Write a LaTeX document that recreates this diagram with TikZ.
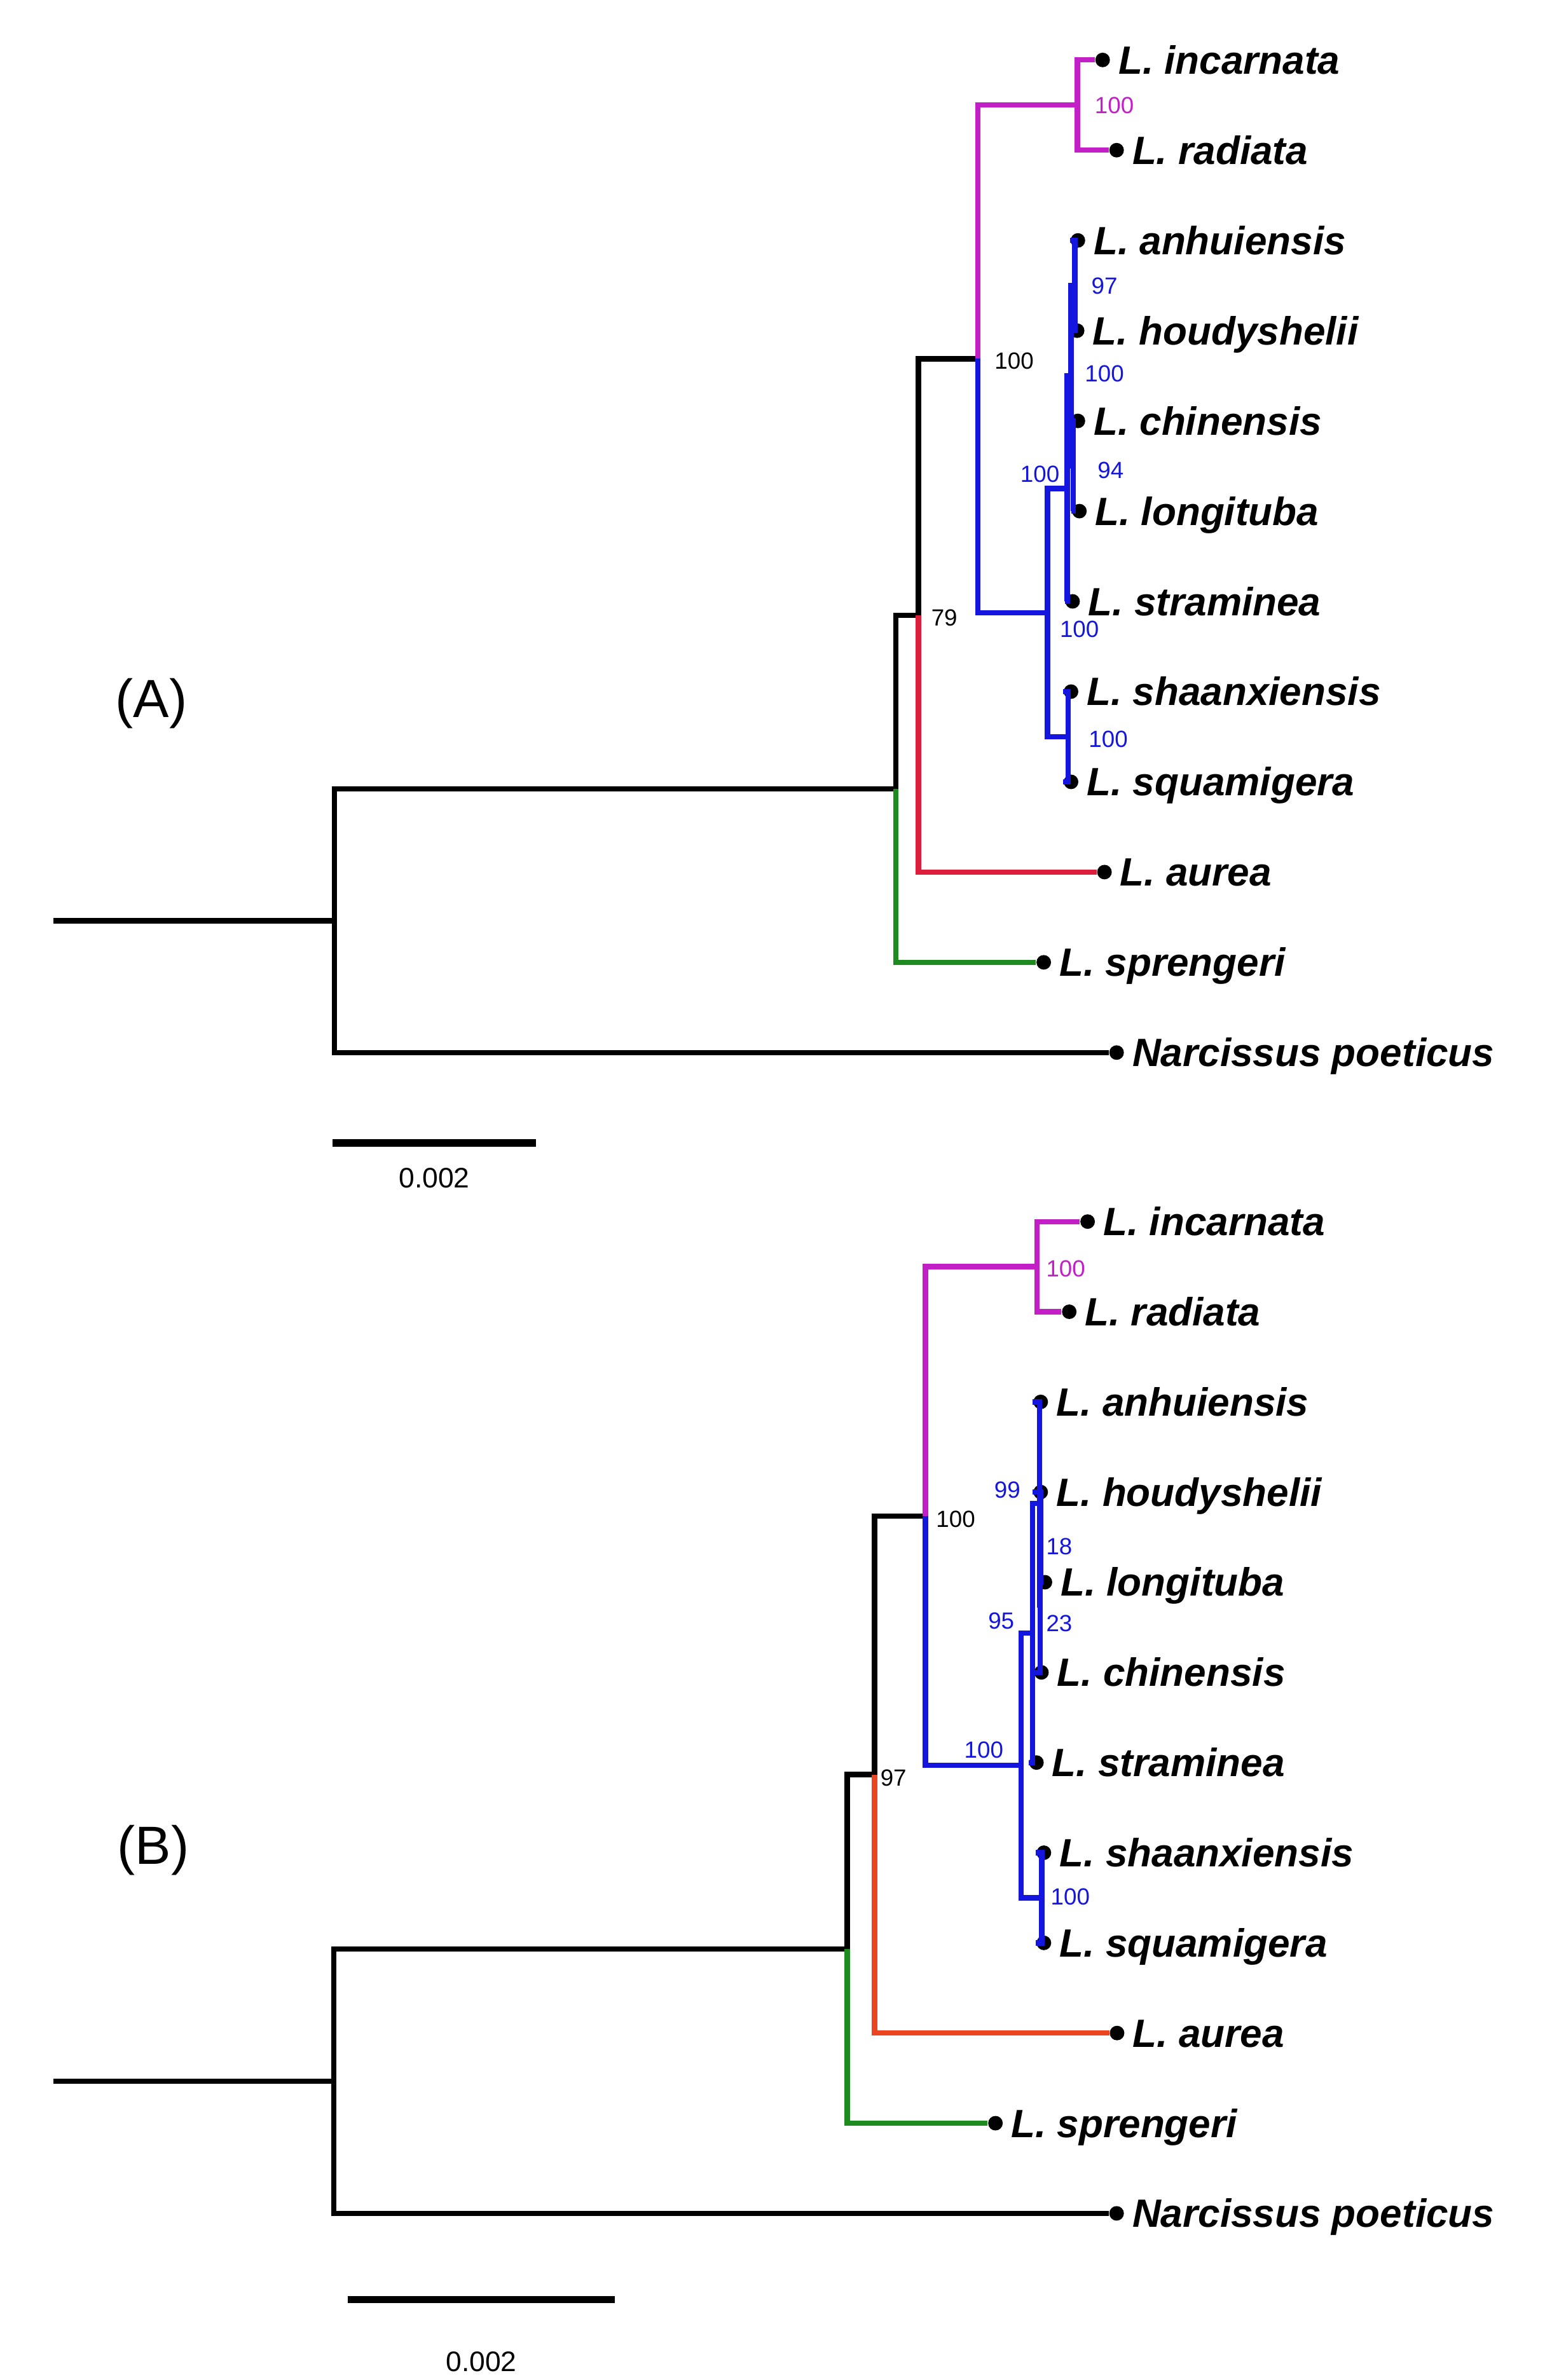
\documentclass[tikz,border=0pt]{standalone}
\usepackage{fontspec}
\setmainfont{Liberation Sans}
\usepackage{tikz}
\usetikzlibrary{positioning}
\definecolor{cladeMag}{HTML}{C21FC6}
\definecolor{cladeBlue}{HTML}{1515E0}
\definecolor{redA}{HTML}{DC1E3C}
\definecolor{redB}{HTML}{EB4420}
\definecolor{cladeGreen}{HTML}{1F8A1F}

\begin{document}
\begin{tikzpicture}[
    x=0.5pt, y=-0.5pt,
    branch/.style = {line width=1.75pt},
    tip/.style = {circle, fill=black, inner sep=0pt, minimum size=4.8pt},
    taxon/.style = {anchor=base west, inner sep=0pt, xshift=5pt, yshift=-4.6pt, font=\fontsize{13}{15}\selectfont\bfseries\itshape},
    boot/.style = {inner sep=0pt, font=\fontsize{7.7}{9}\selectfont},
    panel/.style = {font=\fontsize{17.7}{21}\selectfont},
    scalebar/.style = {line width=2.5pt},
    scaletext/.style = {inner sep=0pt, font=\fontsize{9.3}{11}\selectfont},
]

    % frame
    \fill[white] (0,0) rectangle (1022,1568);

    %%%%%%%%%%%%%%%% tree (A) %%%%%%%%%%%%%%%%
    \node[panel] (labA) at (99.6,463.3) {(A)};

    % tips
    \node[tip] (a-inc) at (726.3,39.5) {};
    \node[tip] (a-rad) at (735.5,98.95) {};
    \node[tip] (a-anh) at (710,158.4) {};
    \node[tip] (a-hou) at (709.5,217.85) {};
    \node[tip] (a-chi) at (710,277.3) {};
    \node[tip] (a-lon) at (711,336.75) {};
    \node[tip] (a-str) at (706.5,396.2) {};
    \node[tip] (a-sha) at (705.5,455.65) {};
    \node[tip] (a-squ) at (705.5,515.1) {};
    \node[tip] (a-aur) at (727.5,574.55) {};
    \node[tip] (a-spr) at (687.5,634) {};
    \node[tip] (a-nar) at (735.5,693.45) {};

    % internal nodes
    \coordinate (a-stem) at (35,606.6);
    \coordinate (a-root) at (220.4,606.6);
    \coordinate (a-n1) at (590,519.7);
    \coordinate (a-n2) at (605,405.5);
    \coordinate (a-n3) at (644,236.4);
    \coordinate (a-mag) at (709.7,69.2);
    \coordinate (a-b1) at (690,403.6);
    \coordinate (a-b2) at (703,321.9);
    \coordinate (a-b3) at (705.5,247.6);
    \coordinate (a-b97) at (708,188.1);
    \coordinate (a-b94) at (707,307);
    \coordinate (a-bss) at (703.5,485.4);

    % branches
    \draw[branch] (a-stem) -- (a-root);
    \draw[branch] (a-root) |- (a-n1);
    \draw[branch] (a-root) |- (a-nar);
    \draw[branch] (a-n1) |- (a-n2);
    \draw[branch, cladeGreen] (a-n1) |- (a-spr);
    \draw[branch] (a-n2) |- (a-n3);
    \draw[branch, redA] (a-n2) |- (a-aur);
    \draw[branch, cladeMag] (a-n3) |- (a-mag);
    \draw[branch, cladeMag] (a-mag) |- (a-inc);
    \draw[branch, cladeMag] (a-mag) |- (a-rad);
    \draw[branch, cladeBlue] (a-n3) |- (a-b1);
    \draw[branch, cladeBlue] (a-b1) |- (a-b2);
    \draw[branch, cladeBlue] (a-b1) |- (a-bss);
    \draw[branch, cladeBlue] (a-bss) |- (a-sha);
    \draw[branch, cladeBlue] (a-bss) |- (a-squ);
    \draw[branch, cladeBlue] (a-b2) |- (a-b3);
    \draw[branch, cladeBlue] (a-b2) |- (a-str);
    \draw[branch, cladeBlue] (a-b3) |- (a-b97);
    \draw[branch, cladeBlue] (a-b3) |- (a-b94);
    \draw[branch, cladeBlue] (a-b97) |- (a-anh);
    \draw[branch, cladeBlue] (a-b97) |- (a-hou);
    \draw[branch, cladeBlue] (a-b94) |- (a-chi);
    \draw[branch, cladeBlue] (a-b94) |- (a-lon);

    % taxa
    \node[taxon] (a-inc-t) at (a-inc) {L. incarnata};
    \node[taxon] (a-rad-t) at (a-rad) {L. radiata};
    \node[taxon] (a-anh-t) at (a-anh) {L. anhuiensis};
    \node[taxon] (a-hou-t) at (a-hou) {L. houdyshelii};
    \node[taxon] (a-chi-t) at (a-chi) {L. chinensis};
    \node[taxon] (a-lon-t) at (a-lon) {L. longituba};
    \node[taxon] (a-str-t) at (a-str) {L. straminea};
    \node[taxon] (a-sha-t) at (a-sha) {L. shaanxiensis};
    \node[taxon] (a-squ-t) at (a-squ) {L. squamigera};
    \node[taxon] (a-aur-t) at (a-aur) {L. aurea};
    \node[taxon] (a-spr-t) at (a-spr) {L. sprengeri};
    \node[taxon] (a-nar-t) at (a-nar) {Narcissus poeticus};

    % support values
    \node[boot, cladeMag] (a-mag-bs) at (734,69.5) {100};
    \node[boot, cladeBlue] (a-b97-bs) at (727.5,188.6) {97};
    \node[boot, cladeBlue] (a-b3-bs) at (727.5,246) {100};
    \node[boot, cladeBlue] (a-b94-bs) at (731.6,310) {94};
    \node[boot, cladeBlue] (a-b2-bs) at (685,312.5) {100};
    \node[boot, cladeBlue] (a-b1-bs) at (711,414.5) {100};
    \node[boot, cladeBlue] (a-bss-bs) at (730,487) {100};
    \node[boot] (a-n3-bs) at (668,237.9) {100};
    \node[boot] (a-n2-bs) at (622,406.9) {79};

    % scale
    \coordinate (a-sb-l) at (219,753);
    \coordinate (a-sb-r) at (353,753);
    \draw[scalebar] (a-sb-l) -- (a-sb-r);
    \node[scaletext] (a-sb-t) at (286,776) {0.002};

    %%%%%%%%%%%%%%%% tree (B) %%%%%%%%%%%%%%%%
    \node[panel] (labB) at (101,1219) {(B)};

    % tips
    \node[tip] (b-inc) at (716.4,804.8) {};
    \node[tip] (b-rad) at (704.3,864.2) {};
    \node[tip] (b-anh) at (685.5,923.6) {};
    \node[tip] (b-hou) at (685.5,983) {};
    \node[tip] (b-lon) at (688.3,1042.4) {};
    \node[tip] (b-chi) at (686,1101.8) {};
    \node[tip] (b-str) at (682.7,1161.2) {};
    \node[tip] (b-sha) at (687.6,1220.6) {};
    \node[tip] (b-squ) at (687.6,1280) {};
    \node[tip] (b-aur) at (735.8,1339.4) {};
    \node[tip] (b-spr) at (655.7,1398.8) {};
    \node[tip] (b-nar) at (735.5,1458.2) {};

    % internal nodes
    \coordinate (b-stem) at (35,1371.1);
    \coordinate (b-root) at (220,1371.1);
    \coordinate (b-n1) at (558,1284);
    \coordinate (b-n2) at (576,1169.1);
    \coordinate (b-n3) at (609.5,998.8);
    \coordinate (b-mag) at (683,834.5);
    \coordinate (b-b1) at (672.5,1163);
    \coordinate (b-b95) at (680,1075.8);
    \coordinate (b-b99) at (684.8,990.4);
    \coordinate (b-b23) at (685.2,1057.3);
    \coordinate (b-b18) at (685.4,1012.7);
    \coordinate (b-bss) at (686.2,1250.3);

    % branches
    \draw[branch] (b-stem) -- (b-root);
    \draw[branch] (b-root) |- (b-n1);
    \draw[branch] (b-root) |- (b-nar);
    \draw[branch] (b-n1) |- (b-n2);
    \draw[branch, cladeGreen] (b-n1) |- (b-spr);
    \draw[branch] (b-n2) |- (b-n3);
    \draw[branch, redB] (b-n2) |- (b-aur);
    \draw[branch, cladeMag] (b-n3) |- (b-mag);
    \draw[branch, cladeMag] (b-mag) |- (b-inc);
    \draw[branch, cladeMag] (b-mag) |- (b-rad);
    \draw[branch, cladeBlue] (b-n3) |- (b-b1);
    \draw[branch, cladeBlue] (b-b1) |- (b-b95);
    \draw[branch, cladeBlue] (b-b1) |- (b-bss);
    \draw[branch, cladeBlue] (b-bss) |- (b-sha);
    \draw[branch, cladeBlue] (b-bss) |- (b-squ);
    \draw[branch, cladeBlue] (b-b95) |- (b-b99);
    \draw[branch, cladeBlue] (b-b95) |- (b-str);
    \draw[branch, cladeBlue] (b-b99) |- (b-anh);
    \draw[branch, cladeBlue] (b-b99) |- (b-b23);
    \draw[branch, cladeBlue] (b-b23) |- (b-b18);
    \draw[branch, cladeBlue] (b-b23) |- (b-chi);
    \draw[branch, cladeBlue] (b-b18) |- (b-hou);
    \draw[branch, cladeBlue] (b-b18) |- (b-lon);

    % taxa
    \node[taxon] (b-inc-t) at (b-inc) {L. incarnata};
    \node[taxon] (b-rad-t) at (b-rad) {L. radiata};
    \node[taxon] (b-anh-t) at (b-anh) {L. anhuiensis};
    \node[taxon] (b-hou-t) at (b-hou) {L. houdyshelii};
    \node[taxon] (b-lon-t) at (b-lon) {L. longituba};
    \node[taxon] (b-chi-t) at (b-chi) {L. chinensis};
    \node[taxon] (b-str-t) at (b-str) {L. straminea};
    \node[taxon] (b-sha-t) at (b-sha) {L. shaanxiensis};
    \node[taxon] (b-squ-t) at (b-squ) {L. squamigera};
    \node[taxon] (b-aur-t) at (b-aur) {L. aurea};
    \node[taxon] (b-spr-t) at (b-spr) {L. sprengeri};
    \node[taxon] (b-nar-t) at (b-nar) {Narcissus poeticus};

    % support values
    \node[boot, cladeMag] (b-mag-bs) at (702,836) {100};
    \node[boot, cladeBlue] (b-b99-bs) at (663.5,981.7) {99};
    \node[boot, cladeBlue] (b-b18-bs) at (697.7,1018.9) {18};
    \node[boot, cladeBlue] (b-b23-bs) at (697.7,1069.4) {23};
    \node[boot, cladeBlue] (b-b95-bs) at (659.5,1068) {95};
    \node[boot, cladeBlue] (b-b1-bs) at (648,1153) {100};
    \node[boot, cladeBlue] (b-bss-bs) at (705,1249.6) {100};
    \node[boot] (b-n3-bs) at (629.5,1000.9) {100};
    \node[boot] (b-n2-bs) at (588.5,1171.5) {97};

    % scale
    \coordinate (b-sb-l) at (229,1515);
    \coordinate (b-sb-r) at (405,1515);
    \draw[scalebar] (b-sb-l) -- (b-sb-r);
    \node[scaletext] (b-sb-t) at (317,1556) {0.002};

\end{tikzpicture}
\end{document}
